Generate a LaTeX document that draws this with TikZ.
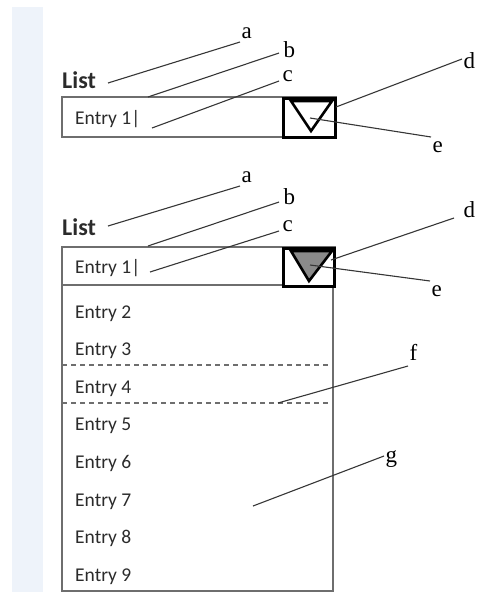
\documentclass[tikz,border=0pt]{standalone}
\usepackage{fontspec}
\setmainfont{Liberation Serif}
\newfontfamily\uifont{Carlito}
\definecolor{stripblue}{HTML}{EEF3FA}
\definecolor{boxgray}{HTML}{6E6E6E}
\definecolor{leadgray}{HTML}{363636}
\definecolor{txtgray}{HTML}{2B2B2B}
\definecolor{arrowgray}{HTML}{8A8A8A}
\begin{document}
\begin{tikzpicture}[x=1pt,y=-1pt,
  lbl/.style={font=\fontsize{23}{23}\selectfont, inner sep=1.5pt, text=black},
  entrytxt/.style={font=\uifont\fontsize{19.5}{19.5}\selectfont, text=txtgray, anchor=base west, inner sep=0pt},
  listtxt/.style={font=\uifont\bfseries\fontsize{24}{24}\selectfont, text=txtgray, anchor=base west, inner sep=0pt},
  fieldbox/.style={draw=boxgray, line width=1.4pt},
  btnbox/.style={draw=black, line width=3pt, fill=white},
  tri/.style={draw=black, line width=2.6pt, line join=miter},
  sep/.style={draw=boxgray, line width=1.3pt, dash pattern=on 5pt off 4pt},
  leader/.style={draw=leadgray, line width=1.1pt}]
\useasboundingbox (0,0) rectangle (477,592);
\fill[stripblue] (12,7) rectangle (43,592);

% ---------- widget 1 ----------
\node[listtxt] (list1) at (62,88) {List};
\draw[fieldbox] (62,97) rectangle (336,137);
\node[entrytxt] (e1a) at (75,124) {Entry 1|};
\draw[btnbox] (283,98) rectangle (335,137);
\draw[tri] (291,101) -- (332,101) -- (311,131) -- cycle;

\coordinate (pa1) at (108,83);
\coordinate (pb1) at (148,97);
\coordinate (pc1) at (152,128);
\coordinate (pd1) at (336,107);
\coordinate (pe1) at (310,118);
\node[lbl, anchor=south west] (la1) at (240,40) {a};
\node[lbl, anchor=west] (lb1) at (282,50) {b};
\node[lbl, anchor=south west] (lc1) at (281,83) {c};
\node[lbl, anchor=west] (ld1) at (462,61) {d};
\node[lbl, anchor=north west] (le1) at (431,140) {e};
\draw[leader] (pa1) -- ([yshift=-2]la1.south west);
\draw[leader] (pb1) -- ([shift={(-3,3)}]lb1.west);
\draw[leader] (pc1) -- ([shift={(-2,-2)}]lc1.south west);
\draw[leader] (pd1) -- ([yshift=2]ld1.west);
\draw[leader] (pe1) -- ([yshift=3]le1.north west);

% ---------- widget 2 ----------
\node[listtxt] (list2) at (62,235) {List};
\draw[fieldbox] (62,247) rectangle (335,285);
\draw[fieldbox] (62,285) rectangle (333,591);
\node[entrytxt] (e2a) at (75,273) {Entry 1|};
\draw[btnbox] (283,248) rectangle (334,286);
\draw[tri, fill=arrowgray] (291,251) -- (332,251) -- (309,281) -- cycle;

\draw[sep] (62,365) -- (333,365);
\draw[sep] (62,403) -- (333,403);

\node[entrytxt] (en2) at (75,318) {Entry 2};
\node[entrytxt] (en3) at (75,355.6) {Entry 3};
\node[entrytxt] (en4) at (75,393.2) {Entry 4};
\node[entrytxt] (en5) at (75,430.8) {Entry 5};
\node[entrytxt] (en6) at (75,468.4) {Entry 6};
\node[entrytxt] (en7) at (75,506) {Entry 7};
\node[entrytxt] (en8) at (75,543.6) {Entry 8};
\node[entrytxt] (en9) at (75,581.2) {Entry 9};

\coordinate (pa2) at (108,226);
\coordinate (pb2) at (148,246);
\coordinate (pc2) at (150,272);
\coordinate (pd2) at (331,260);
\coordinate (pe2) at (310,265);
\coordinate (pf) at (278,403);
\coordinate (pg) at (253,506);
\node[lbl, anchor=south west] (la2) at (240,184) {a};
\node[lbl, anchor=west] (lb2) at (282,197) {b};
\node[lbl, anchor=south west] (lc2) at (281,233) {c};
\node[lbl, anchor=west] (ld2) at (462,210) {d};
\node[lbl, anchor=north west] (le2) at (430,284) {e};
\node[lbl, anchor=south west] (lf) at (408,362) {f};
\node[lbl, anchor=west] (lg) at (384,459) {g};
\draw[leader] (pa2) -- ([yshift=-2]la2.south west);
\draw[leader] (pb2) -- ([shift={(-3,5)}]lb2.west);
\draw[leader] (pc2) -- ([shift={(-2,-2)}]lc2.south west);
\draw[leader] (pd2) -- ([shift={(-8,8)}]ld2.west);
\draw[leader] (pe2) -- ([yshift=3]le2.north west);
\draw[leader] (pf) -- ([yshift=-4]lf.south west);
\draw[leader] (pg) -- ([yshift=3]lg.west);
\end{tikzpicture}
\end{document}
